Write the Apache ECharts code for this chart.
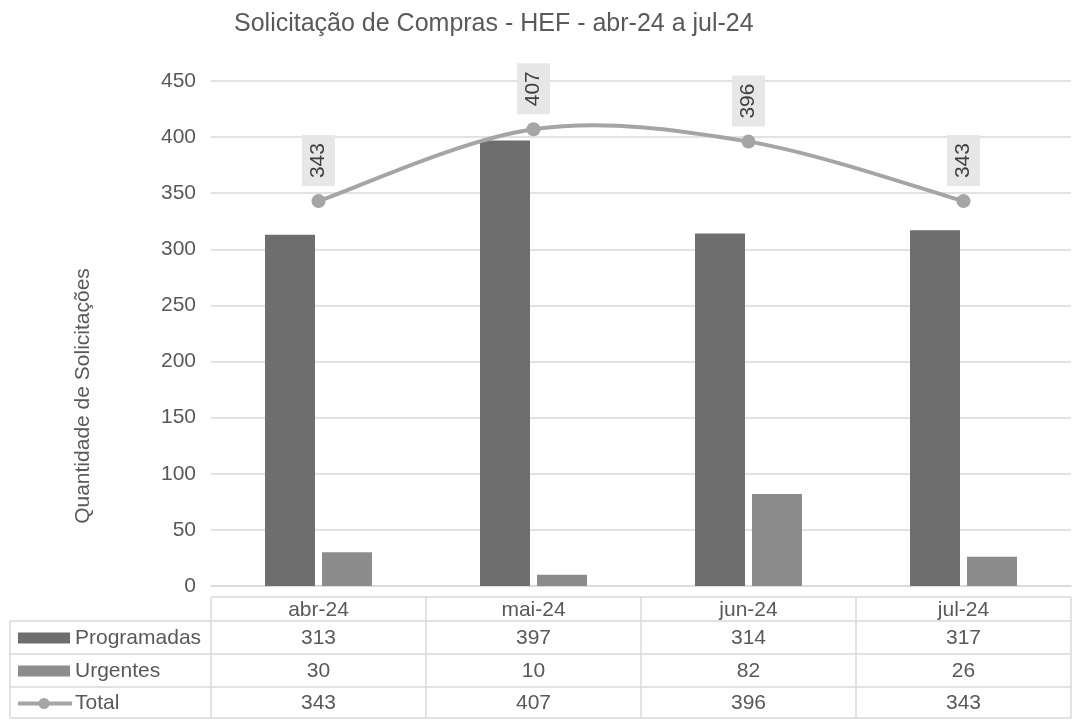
<!DOCTYPE html>
<html>
<head>
<meta charset="utf-8">
<script src="https://cdn.jsdelivr.net/npm/echarts@6/dist/echarts.min.js"></script>
<style>html,body{margin:0;padding:0;background:#fff}#c{width:1074px;height:720px}</style>
</head>
<body>
<div id="c"></div>
<script>
const categories = ['abr-24', 'mai-24', 'jun-24', 'jul-24'];
const programadas = [313, 397, 314, 317];
const urgentes = [30, 10, 82, 26];
const total = [343, 407, 396, 343];
const seriesNames = ['Programadas', 'Urgentes', 'Total'];
const yTicks = { min: 0, max: 450, interval: 50 };
const yAxisName = 'Quantidade de Solicitações';

const FONT = '"Liberation Sans", Arial, sans-serif';
const TXT = '#595959';
const C_PROG = '#6e6e6e', C_URG = '#8c8c8c', C_TOT = '#a5a5a5';
const GRID = { left: 211, right: 3, top: 81, bottom: 134 };
const W = 1074;
const FS = 21;

const chart = echarts.init(document.getElementById('c'));

function buildGraphics() {
  const g = [];
  const x0 = 10, x1 = GRID.left, xEnd = W - GRID.right;
  const colW = (xEnd - x1) / categories.length;
  const rows = [597, 621, 654, 687, 718];
  const line = (xa, ya, xb, yb) => g.push({ type: 'line', shape: { x1: xa, y1: ya, x2: xb, y2: yb }, style: { stroke: '#d9d9d9', lineWidth: 1.5 }, silent: true });
  line(x1, rows[0], xEnd, rows[0]);
  for (let i = 1; i < rows.length; i++) line(x0, rows[i], xEnd, rows[i]);
  line(x0, rows[1], x0, rows[4]);
  for (let c = 0; c <= categories.length; c++) line(x1 + c * colW, rows[0], x1 + c * colW, rows[4]);
  const txt = (t, x, y, align) => g.push({ type: 'text', x: x, y: y, style: { text: t, fill: TXT, font: FS + 'px ' + FONT, textAlign: align || 'center', textVerticalAlign: 'middle' }, silent: true });
  categories.forEach((c, i) => txt(c, x1 + (i + 0.5) * colW, (rows[0] + rows[1]) / 2 + 1));
  const data = [programadas, urgentes, total];
  data.forEach((arr, r) => {
    const yc = (rows[r + 1] + rows[r + 2]) / 2 + 1;
    arr.forEach((v, i) => txt(String(v), x1 + (i + 0.5) * colW, yc));
    txt(seriesNames[r], 75, yc, 'left');
    if (r < 2) {
      g.push({ type: 'rect', shape: { x: 18, y: yc - 6, width: 52, height: 11 }, style: { fill: r === 0 ? C_PROG : C_URG }, silent: true });
    } else {
      g.push({ type: 'line', shape: { x1: 18, y1: yc, x2: 72, y2: yc }, style: { stroke: C_TOT, lineWidth: 4 }, silent: true });
      g.push({ type: 'circle', shape: { cx: 44, cy: yc, r: 5.5 }, style: { fill: C_TOT }, silent: true });
    }
  });
  // y axis title
  g.push({
    type: 'text', x: 83, y: 396, rotation: Math.PI / 2,
    style: { text: yAxisName, fill: TXT, font: FS + 'px ' + FONT, textAlign: 'center', textVerticalAlign: 'middle' },
    silent: true
  });
  return g;
}

// Excel-like smoothed curve (Catmull-Rom style Bezier) drawn through axis coordinates
function renderCurve(params, api) {
  if (params.dataIndex !== 0) return null;
  const pts = total.map((v, i) => api.coord([i, v]));
  const n = pts.length;
  const children = [];
  for (let i = 0; i < n - 1; i++) {
    const p0 = pts[Math.max(i - 1, 0)], p1 = pts[i], p2 = pts[i + 1], p3 = pts[Math.min(i + 2, n - 1)];
    children.push({
      type: 'bezierCurve',
      shape: {
        x1: p1[0], y1: p1[1], x2: p2[0], y2: p2[1],
        cpx1: p1[0] + (p2[0] - p0[0]) / 6, cpy1: p1[1] + (p2[1] - p0[1]) / 6,
        cpx2: p2[0] - (p3[0] - p1[0]) / 6, cpy2: p2[1] - (p3[1] - p1[1]) / 6
      },
      style: { stroke: C_TOT, lineWidth: 4, fill: null, lineCap: 'round' }
    });
  }
  return { type: 'group', children: children };
}

chart.setOption({
  animation: false,
  backgroundColor: '#fff',
  textStyle: { fontFamily: FONT },
  title: {
    text: 'Solicitação de Compras - HEF - abr-24 a jul-24',
    left: 229, top: 7,
    textStyle: { color: TXT, fontSize: 25, fontWeight: 'normal', fontFamily: FONT }
  },
  grid: GRID,
  xAxis: {
    type: 'category', data: categories,
    axisLine: { show: true, lineStyle: { color: '#d9d9d9', width: 1.5 } },
    axisTick: { show: false }, axisLabel: { show: false }
  },
  yAxis: {
    type: 'value', min: yTicks.min, max: yTicks.max, interval: yTicks.interval,
    axisLine: { show: false }, axisTick: { show: false },
    axisLabel: { color: TXT, fontSize: FS, margin: 15, fontFamily: FONT },
    splitLine: { lineStyle: { color: '#d9d9d9', width: 1.5 } }
  },
  series: [
    { name: seriesNames[0], type: 'bar', data: programadas, barWidth: 50, barGap: '14%', itemStyle: { color: C_PROG } },
    { name: seriesNames[1], type: 'bar', data: urgentes, barWidth: 50, itemStyle: { color: C_URG } },
    { name: seriesNames[2] + ' curve', type: 'custom', data: total, renderItem: renderCurve, z: 4, silent: true },
    {
      name: seriesNames[2], type: 'line', data: total,
      symbol: 'circle', symbolSize: 14,
      lineStyle: { opacity: 0, width: 0 }, itemStyle: { color: C_TOT },
      label: {
        show: true, position: 'top', distance: 8, rotate: 90, align: 'left', verticalAlign: 'middle',
        color: '#404040', fontSize: FS, fontFamily: FONT, lineHeight: 21,
        backgroundColor: '#e7e7e7', padding: [6, 8, 6, 8]
      },
      z: 5
    }
  ],
  graphic: buildGraphics()
});
</script>
</body>
</html>
